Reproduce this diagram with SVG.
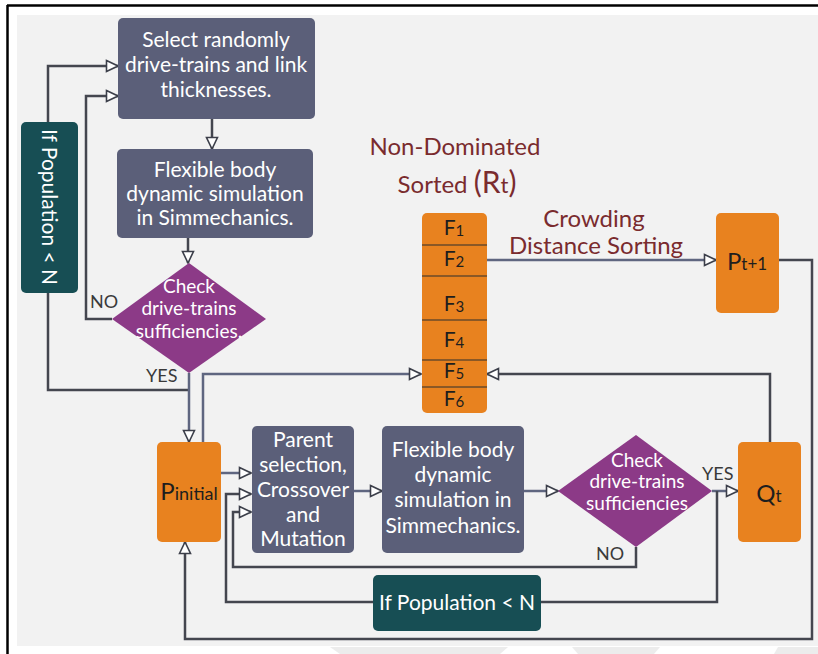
<svg xmlns="http://www.w3.org/2000/svg" width="818" height="654" viewBox="0 0 818 654">
<style>
.box{fill:#5b5f79}
.teal{fill:#174e54}
.dia{fill:#8c3a87}
.org{fill:#e8821f}
.wt{font-family:Lato,"Open Sans","Liberation Sans",sans-serif;font-size:21px;fill:#ffffff;text-anchor:middle}
.dk{font-family:Lato,"Open Sans","Liberation Sans",sans-serif;fill:#1e1e1e;text-anchor:middle}
.lbl{font-family:Lato,"Open Sans","Liberation Sans",sans-serif;font-size:18px;fill:#3a3a3a}
.red{font-family:Lato,"Open Sans","Liberation Sans",sans-serif;font-size:24px;fill:#7a2b2e;text-anchor:middle}
.ln{fill:none;stroke:#44464f;stroke-width:2.5}
.sl{fill:none;stroke:#5f6680;stroke-width:2.5}
.div{stroke:#6b4a2a;stroke-width:1.5}
</style>
<defs>
<marker id="ah" viewBox="0 0 14 14" refX="13" refY="7" markerWidth="14" markerHeight="14" markerUnits="userSpaceOnUse" orient="auto">
<path d="M1.5,1.5 L13,7 L1.5,12.5 Z" fill="#ffffff" stroke="#3c3f4a" stroke-width="1.6"/>
</marker>
</defs>
<rect x="0" y="0" width="818" height="654" fill="#ffffff"/>
<rect x="17" y="15" width="801" height="631" fill="#f2f2f2"/>
<g id="watermark" fill="#ececec">
<polygon points="330,647 508,647 500,654 340,654"/>
<polygon points="572,647 660,647 654,654 578,654"/>
<polygon points="778,647 818,647 818,654 774,654"/>
</g>
<g id="frame" stroke="#000000" fill="none">
<line x1="7" y1="5.5" x2="818" y2="5.5" stroke-width="2.5"/>
<line x1="7.5" y1="5" x2="7.5" y2="654" stroke-width="2.5"/>
</g>
<g id="connectors">
<path class="ln" d="M48,122 V66 H118" marker-end="url(#ah)"/>
<path class="ln" d="M112,319 H86 V96 H118" marker-end="url(#ah)"/>
<path class="ln" d="M212,119 V149" marker-end="url(#ah)"/>
<path class="ln" d="M188,238 V263" marker-end="url(#ah)"/>
<path class="ln" d="M48,293 V390 H189"/>
<path class="sl" d="M189,373 V442" marker-end="url(#ah)"/>
<path class="sl" d="M203,442 V374 H421" marker-end="url(#ah)"/>
<path class="sl" d="M487,260 H716" marker-end="url(#ah)"/>
<path class="ln" d="M779,260 H812 V639 H185 V542" marker-end="url(#ah)"/>
<path class="sl" d="M221,473 H251" marker-end="url(#ah)"/>
<path class="sl" d="M354,491 H382" marker-end="url(#ah)"/>
<path class="sl" d="M524,491 H558" marker-end="url(#ah)"/>
<path class="sl" d="M712,491 H738" marker-end="url(#ah)"/>
<path class="ln" d="M770,442 V374 H487" marker-end="url(#ah)"/>
<path class="ln" d="M636,547 V567 H233 V512 H251" marker-end="url(#ah)"/>
<path class="ln" d="M717,491 V602 H226 V494 H251" marker-end="url(#ah)"/>
</g>
<g id="select-randomly">
<rect class="box" x="118" y="18" width="197" height="101" rx="5"/>
<text class="wt" x="216" y="47">Select randomly</text>
<text class="wt" x="216" y="72">drive-trains and link</text>
<text class="wt" x="216" y="97">thicknesses.</text>
</g>
<g id="flex-sim-1">
<rect class="box" x="117" y="149" width="196" height="89" rx="5"/>
<text class="wt" x="215" y="177">Flexible body</text>
<text class="wt" x="215" y="201">dynamic simulation</text>
<text class="wt" x="215" y="225">in Simmechanics.</text>
</g>
<g id="check-1">
<polygon class="dia" points="189,263 266,319 189,373 112,319"/>
<text class="wt" x="189" y="293" style="font-size:19px">Check</text>
<text class="wt" x="189" y="315" style="font-size:19px">drive-trains</text>
<text class="wt" x="189" y="338" style="font-size:19px">sufficiencies.</text>
</g>
<g id="if-pop-vertical">
<rect class="teal" x="21" y="122" width="57" height="171" rx="5"/>
<text class="wt" transform="translate(42,207) rotate(90)">If Population &lt; N</text>
</g>
<g id="labels">
<text class="lbl" x="90" y="308">NO</text>
<text class="lbl" x="146" y="382">YES</text>
<text class="lbl" x="702" y="480">YES</text>
<text class="lbl" x="596" y="560">NO</text>
</g>
<g id="nds-title">
<text class="red" x="455" y="155">Non-Dominated</text>
<text class="red" x="457" y="193">Sorted <tspan style="font-size:30px">(R</tspan><tspan style="font-size:22px">t</tspan><tspan style="font-size:30px">)</tspan></text>
</g>
<g id="crowding-label">
<text class="red" x="594" y="227">Crowding</text>
<text class="red" x="596" y="254">Distance Sorting</text>
</g>
<g id="fronts">
<rect class="org" x="422" y="213" width="65" height="200" rx="5"/>
<line class="div" x1="422" y1="245" x2="487" y2="245"/>
<line class="div" x1="422" y1="276" x2="487" y2="276"/>
<line class="div" x1="422" y1="320" x2="487" y2="320"/>
<line class="div" x1="422" y1="360" x2="487" y2="360"/>
<line class="div" x1="422" y1="387" x2="487" y2="387"/>
<text class="dk" x="454" y="235" style="font-size:21px">F<tspan style="font-size:15px" dy="1">1</tspan></text>
<text class="dk" x="454" y="266" style="font-size:21px">F<tspan style="font-size:15px" dy="1">2</tspan></text>
<text class="dk" x="454" y="311" style="font-size:21px">F<tspan style="font-size:15px" dy="1">3</tspan></text>
<text class="dk" x="454" y="347" style="font-size:21px">F<tspan style="font-size:15px" dy="1">4</tspan></text>
<text class="dk" x="454" y="378" style="font-size:21px">F<tspan style="font-size:15px" dy="1">5</tspan></text>
<text class="dk" x="454" y="406" style="font-size:21px">F<tspan style="font-size:15px" dy="1">6</tspan></text>
</g>
<g id="p-t1">
<rect class="org" x="716" y="213" width="63" height="100" rx="5"/>
<text class="dk" x="747" y="270" style="font-size:24px">P<tspan style="font-size:17px">t+1</tspan></text>
</g>
<g id="p-initial">
<rect class="org" x="157" y="442" width="64" height="100" rx="5"/>
<text class="dk" x="189" y="500" style="font-size:24px">P<tspan style="font-size:18px">initial</tspan></text>
</g>
<g id="parent-selection">
<rect class="box" x="252" y="426" width="102" height="127" rx="5"/>
<text class="wt" x="303" y="447">Parent</text>
<text class="wt" x="303" y="472">selection,</text>
<text class="wt" x="303" y="497">Crossover</text>
<text class="wt" x="303" y="522">and</text>
<text class="wt" x="303" y="546">Mutation</text>
</g>
<g id="flex-sim-2">
<rect class="box" x="382" y="426" width="142" height="127" rx="5"/>
<text class="wt" x="453" y="457">Flexible body</text>
<text class="wt" x="453" y="482">dynamic</text>
<text class="wt" x="453" y="507">simulation in</text>
<text class="wt" x="453" y="533">Simmechanics.</text>
</g>
<g id="check-2">
<polygon class="dia" points="636,435 712,491 636,547 558,491"/>
<text class="wt" x="637" y="467" style="font-size:19px">Check</text>
<text class="wt" x="637" y="488" style="font-size:19px">drive-trains</text>
<text class="wt" x="637" y="510" style="font-size:19px">sufficiencies</text>
</g>
<g id="q-t">
<rect class="org" x="738" y="442" width="63" height="100" rx="5"/>
<text class="dk" x="769" y="502" style="font-size:24px">Q<tspan style="font-size:17px">t</tspan></text>
</g>
<g id="if-pop-horizontal">
<rect class="teal" x="373" y="575" width="168" height="56" rx="5"/>
<text class="wt" x="457" y="610">If Population &lt; N</text>
</g>
</svg>
